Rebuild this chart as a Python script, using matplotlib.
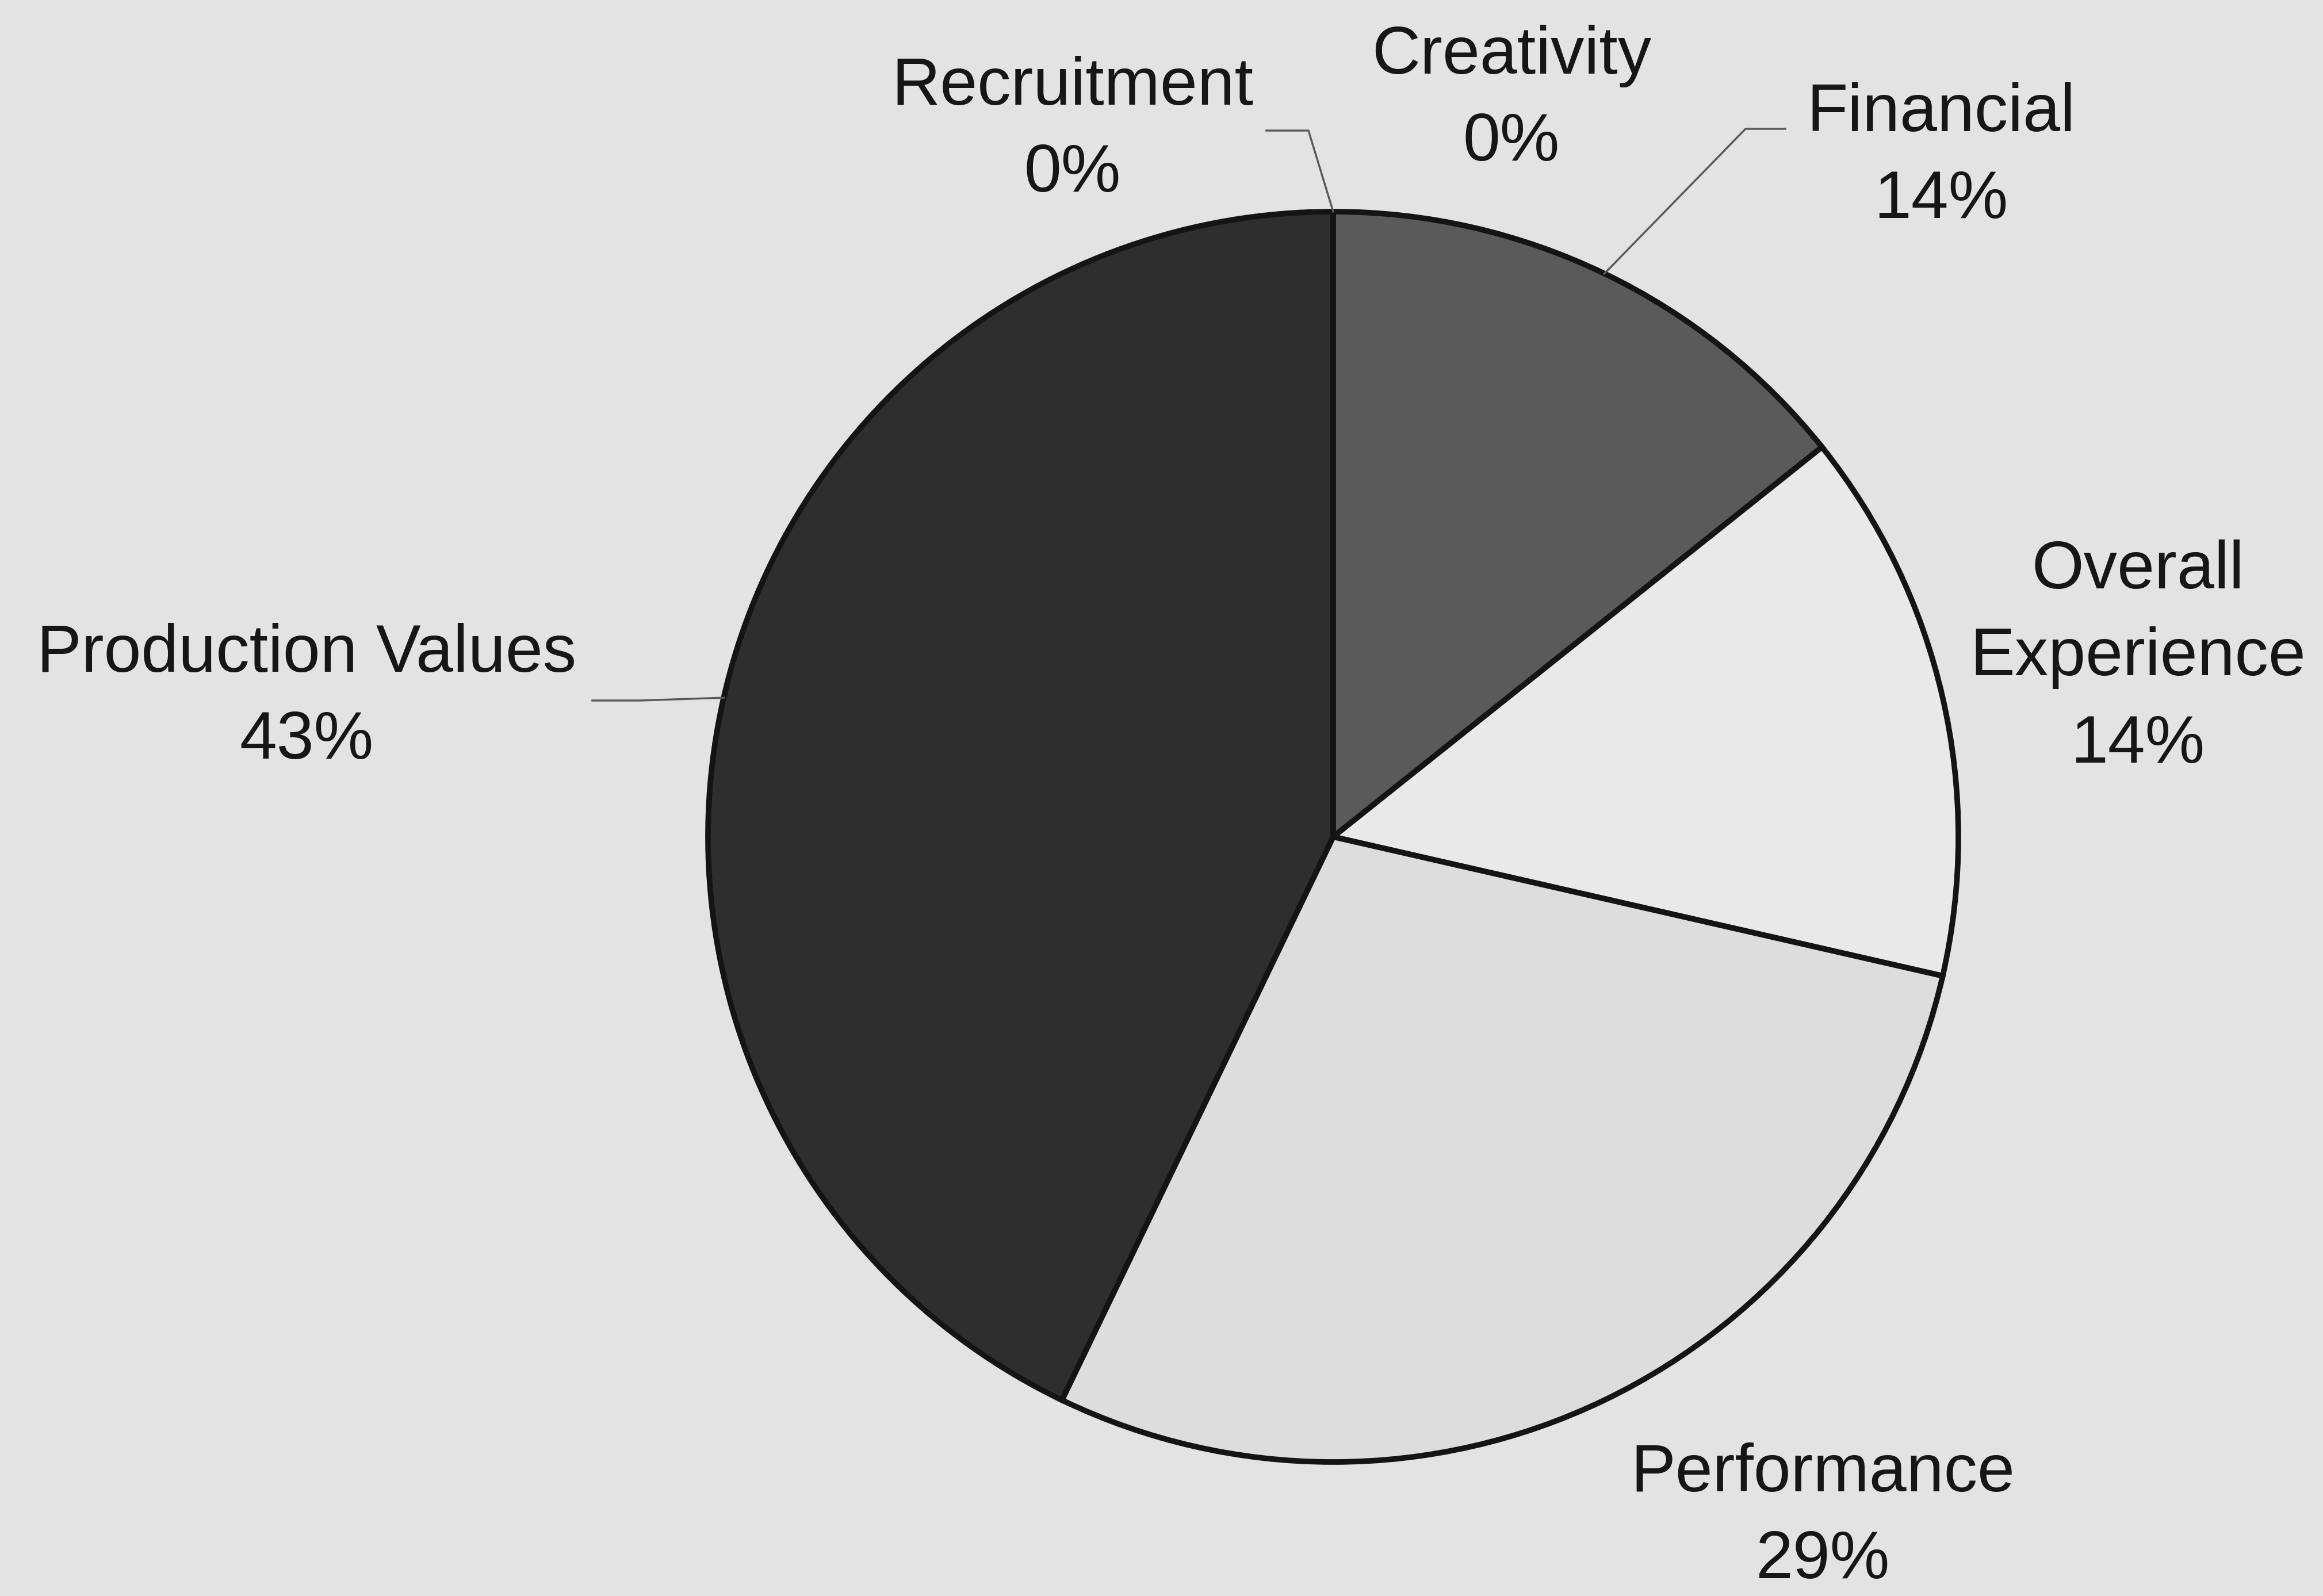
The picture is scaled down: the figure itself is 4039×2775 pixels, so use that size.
import numpy as np
from matplotlib import pyplot as plt

# Data
categories = ['Creativity', 'Financial', 'Overall\nExperience', 'Performance',
              'Production Values', 'Recruitment']
counts = [0, 1, 1, 2, 3, 0]

# Styling
colors = ['#9a9a9a', '#5a5a5a', '#e9e9e9', '#dddddd', '#2e2e2e', '#2e2e2e']
W, H = 4039, 2775
bg = '#e3e3e3'
center = (2318, H - 1455)
radius = 1087

# label block centres, pixel coords (y down)
label_xy = [(2628, 173), (3375, 273), (3717, 1144), (3169, 2638),
            (533, 1213), (1865, 227)]
# leader lines: (text end, elbow) in pixel coords, None = no line
leaders = [None, ((3104, 224), (3035, 224)), None, None,
           ((1030, 1218), (1113, 1218)), ((2202, 227), (2275, 227))]

plt.rcParams['font.family'] = ['Liberation Sans', 'DejaVu Sans']

fig = plt.figure(figsize=(W / 100, H / 100), dpi=100)
fig.patch.set_facecolor(bg)
ax = fig.add_axes([0, 0, 1, 1])
ax.set_facecolor(bg)

wedges, _ = ax.pie(counts, colors=colors, startangle=90, counterclock=False,
                   center=center, radius=radius, frame=True,
                   wedgeprops=dict(edgecolor='#141414', linewidth=7))
ax.set_xlim(0, W)
ax.set_ylim(0, H)
ax.set_aspect('equal')
ax.axis('off')

total = sum(counts)
for w, name, n, (lx, ly), ld in zip(wedges, categories, counts, label_xy, leaders):
    pct = '{:.0f}%'.format(100.0 * n / total)
    ax.text(lx, H - ly, name + '\n' + pct, ha='center', va='center',
            fontsize=84, color='#161616', linespacing=1.5)
    if ld is not None:
        mid = np.deg2rad((w.theta1 + w.theta2) / 2)
        ex = center[0] + radius * np.cos(mid)
        ey = center[1] + radius * np.sin(mid)
        (x0, y0), (x1, y1) = ld
        ax.plot([x0, x1, ex], [H - y0, H - y1, ey], color='#5a5a5a', lw=2.5)

fig.savefig('out.png', dpi=100, facecolor=bg)
